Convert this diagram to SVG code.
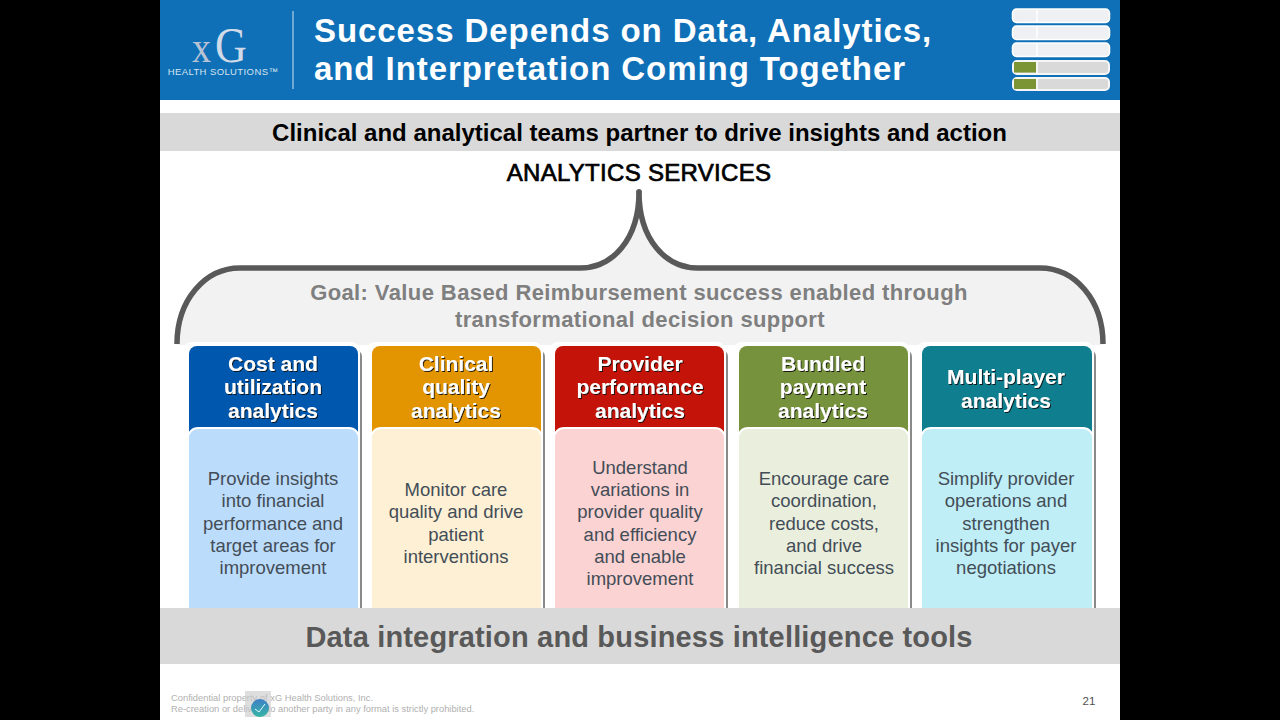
<svg xmlns="http://www.w3.org/2000/svg" width="1280" height="720" viewBox="0 0 1280 720">
<defs>
<filter id="ds" x="-10%" y="-20%" width="120%" height="150%"><feDropShadow dx="1" dy="1" stdDeviation="0.4" flood-color="#111" flood-opacity=".9"/></filter>
<linearGradient id="ic" x1="0" y1="0" x2="0" y2="1"><stop offset="0" stop-color="#3f7fc8"/><stop offset="1" stop-color="#35b5a5"/></linearGradient>
</defs>
<style>
text{font-family:"Liberation Sans",Arial,sans-serif;text-anchor:middle}
.h{font-size:21px;font-weight:bold;fill:#fff;filter:url(#ds)}
.b{font-size:18.5px;fill:#434d57}
.g{font-size:22px;font-weight:bold;fill:#7f7f7f;letter-spacing:.4px}
.t{font-size:33px;font-weight:bold;fill:#fff;text-anchor:start;letter-spacing:.93px}
.bar{fill:#eff0f3;stroke:#fff;stroke-width:1.5}
.bar2{fill:#d9d9d9;stroke:#f6f6f6;stroke-width:2}
.div{stroke:#fff;stroke-width:1.5}
.card{fill:#fff}
.sh{fill:#8a8a8a}
.hd{stroke:none}
.bd{stroke:#fff;stroke-width:2}
.f{font-size:9.35px;fill:#b0b0b0;text-anchor:start}
</style>
<rect width="1280" height="720" fill="#000"/>
<rect x="160" width="960" height="720" fill="#fff"/>
<g id="header">
<rect x="160" width="960" height="100" fill="#0f70b7"/>
<path d="M293 11V89" stroke="#8fbde0" stroke-width="1.5"/>
<text transform="translate(192,62) scale(1,1.15)" style="text-anchor:start;font-family:'Liberation Serif',serif;fill:#d0dae8"><tspan style="font-size:38px;fill:#b9c3d6">x</tspan><tspan dx="4" style="font-size:44px">G</tspan></text>
<text x="223" y="75" style="font-size:9.5px;fill:#d5e3f0;letter-spacing:.4px">HEALTH SOLUTIONS™</text>
<text class="t" x="314" y="42">Success Depends on Data, Analytics,</text>
<text class="t" x="314" y="80">and Interpretation Coming Together</text>
</g>
<g id="progress">
<rect class="bar" x="1012.500" y="9" width="97" height="13.500" rx="4"/><path class="div" d="M1037 10V22"/>
<rect class="bar" x="1012.500" y="26" width="97" height="13.500" rx="4"/><path class="div" d="M1037 27V39"/>
<rect class="bar" x="1012.500" y="43" width="97" height="13.500" rx="4"/><path class="div" d="M1037 44V56"/>
<rect class="bar2" x="1013" y="61" width="96" height="13" rx="4"/>
<rect x="1014" y="62" width="22" height="10.500" fill="#7b9535"/><path class="div" d="M1037 61V74"/>
<rect class="bar2" x="1013" y="78" width="96" height="12" rx="4"/>
<rect x="1014" y="79" width="22" height="10" fill="#7b9535"/><path class="div" d="M1037 78V90"/>
</g>
<g id="banner-top">
<rect x="160" y="113" width="960" height="38" fill="#d9d9d9"/>
<text x="639.500" y="141" style="font-size:24px;font-weight:bold;fill:#000">Clinical and analytical teams partner to drive insights and action</text>
</g>
<text x="639" y="181" style="font-size:24px;fill:#000;stroke:#000;stroke-width:.7px;letter-spacing:.3px">ANALYTICS SERVICES</text>
<g id="brace">
<path d="M177 345C177 300 205 268 240 268H580C612 268 639 240 639 192C639 240 666 268 698 268H1040C1075 268 1103 300 1103 345Z" fill="#f2f2f2"/>
<path d="M177 344C177 300 205 268 240 268H580C612 268 639 240 639 192C639 240 666 268 698 268H1040C1075 268 1103 300 1103 344" fill="none" stroke="#595959" stroke-width="5.500" stroke-linejoin="round"/>
<circle cx="639" cy="192" r="2.700" fill="#595959"/>
<text class="g" x="639" y="300">Goal: Value Based Reimbursement success enabled through</text>
<text class="g" x="640" y="327">transformational decision support</text>
</g>
<g id="col1">
<rect class="sh" x="188" y="348" width="174" height="270" rx="9"/><rect class="card" x="183" y="342" width="177" height="270" rx="9"/>
<rect class="hd" x="189" y="346" width="169" height="100" rx="8" fill="#0057ae"/>
<rect class="bd" x="188" y="428" width="171" height="190" rx="10" fill="#bcdcfb"/>
<text class="h" x="273" y="371">Cost and</text><text class="h" x="273" y="394">utilization</text><text class="h" x="273" y="418">analytics</text>
<text class="b" x="273" y="485">Provide insights</text><text class="b" x="273" y="507">into financial</text><text class="b" x="273" y="530">performance and</text><text class="b" x="273" y="552">target areas for</text><text class="b" x="273" y="574">improvement</text>
</g>
<g id="col2">
<rect class="sh" x="371" y="348" width="174" height="270" rx="9"/><rect class="card" x="366" y="342" width="177" height="270" rx="9"/>
<rect class="hd" x="372" y="346" width="169" height="100" rx="8" fill="#e29500"/>
<rect class="bd" x="371" y="428" width="171" height="190" rx="10" fill="#fdf0d5"/>
<text class="h" x="456" y="371">Clinical</text><text class="h" x="456" y="394">quality</text><text class="h" x="456" y="418">analytics</text>
<text class="b" x="456" y="496">Monitor care</text><text class="b" x="456" y="518">quality and drive</text><text class="b" x="456" y="541">patient</text><text class="b" x="456" y="563">interventions</text>
</g>
<g id="col3">
<rect class="sh" x="554" y="348" width="174" height="270" rx="9"/><rect class="card" x="549" y="342" width="177" height="270" rx="9"/>
<rect class="hd" x="555" y="346" width="169" height="100" rx="8" fill="#c4140a"/>
<rect class="bd" x="554" y="428" width="171" height="190" rx="10" fill="#fbd3d3"/>
<text class="h" x="640" y="371">Provider</text><text class="h" x="640" y="394">performance</text><text class="h" x="640" y="418">analytics</text>
<text class="b" x="640" y="474">Understand</text><text class="b" x="640" y="496">variations in</text><text class="b" x="640" y="518">provider quality</text><text class="b" x="640" y="541">and efficiency</text><text class="b" x="640" y="563">and enable</text><text class="b" x="640" y="585">improvement</text>
</g>
<g id="col4">
<rect class="sh" x="738" y="348" width="174" height="270" rx="9"/><rect class="card" x="733" y="342" width="177" height="270" rx="9"/>
<rect class="hd" x="739" y="346" width="169" height="100" rx="8" fill="#76923c"/>
<rect class="bd" x="738" y="428" width="171" height="190" rx="10" fill="#eaefdd"/>
<text class="h" x="823" y="371">Bundled</text><text class="h" x="823" y="394">payment</text><text class="h" x="823" y="418">analytics</text>
<text class="b" x="824" y="485">Encourage care</text><text class="b" x="824" y="507">coordination,</text><text class="b" x="824" y="530">reduce costs,</text><text class="b" x="824" y="552">and drive</text><text class="b" x="824" y="574">financial success</text>
</g>
<g id="col5">
<rect class="sh" x="921" y="348" width="175" height="270" rx="9"/><rect class="card" x="916" y="342" width="178" height="270" rx="9"/>
<rect class="hd" x="922" y="346" width="170" height="100" rx="8" fill="#0f7f8f"/>
<rect class="bd" x="921" y="428" width="172" height="190" rx="10" fill="#bfeef6"/>
<text class="h" x="1006" y="384">Multi-player</text><text class="h" x="1006" y="408">analytics</text>
<text class="b" x="1006" y="485">Simplify provider</text><text class="b" x="1006" y="507">operations and</text><text class="b" x="1006" y="530">strengthen</text><text class="b" x="1006" y="552">insights for payer</text><text class="b" x="1006" y="574">negotiations</text>
</g>
<g id="banner-bottom">
<rect x="160" y="608" width="960" height="56" fill="#d9d9d9"/>
<text x="639" y="647" style="font-size:29px;font-weight:bold;fill:#595959;letter-spacing:.17px">Data integration and business intelligence tools</text>
</g>
<g id="footer">
<text class="f" x="171" y="700.500">Confidential property of xG Health Solutions, Inc.</text>
<text class="f" x="171" y="712">Re-creation or delivery to another party in any format is strictly prohibited.</text>
<rect x="245" y="691" width="26" height="26" fill="#c8c8c8" opacity=".6"/>
<circle cx="260" cy="708" r="9" fill="url(#ic)"/>
<path d="M255 709L259 712L265 704" fill="none" stroke="#dff" stroke-width="1"/>
<text x="1089" y="705" style="font-size:11.500px;fill:#505050">21</text>
</g>
</svg>
